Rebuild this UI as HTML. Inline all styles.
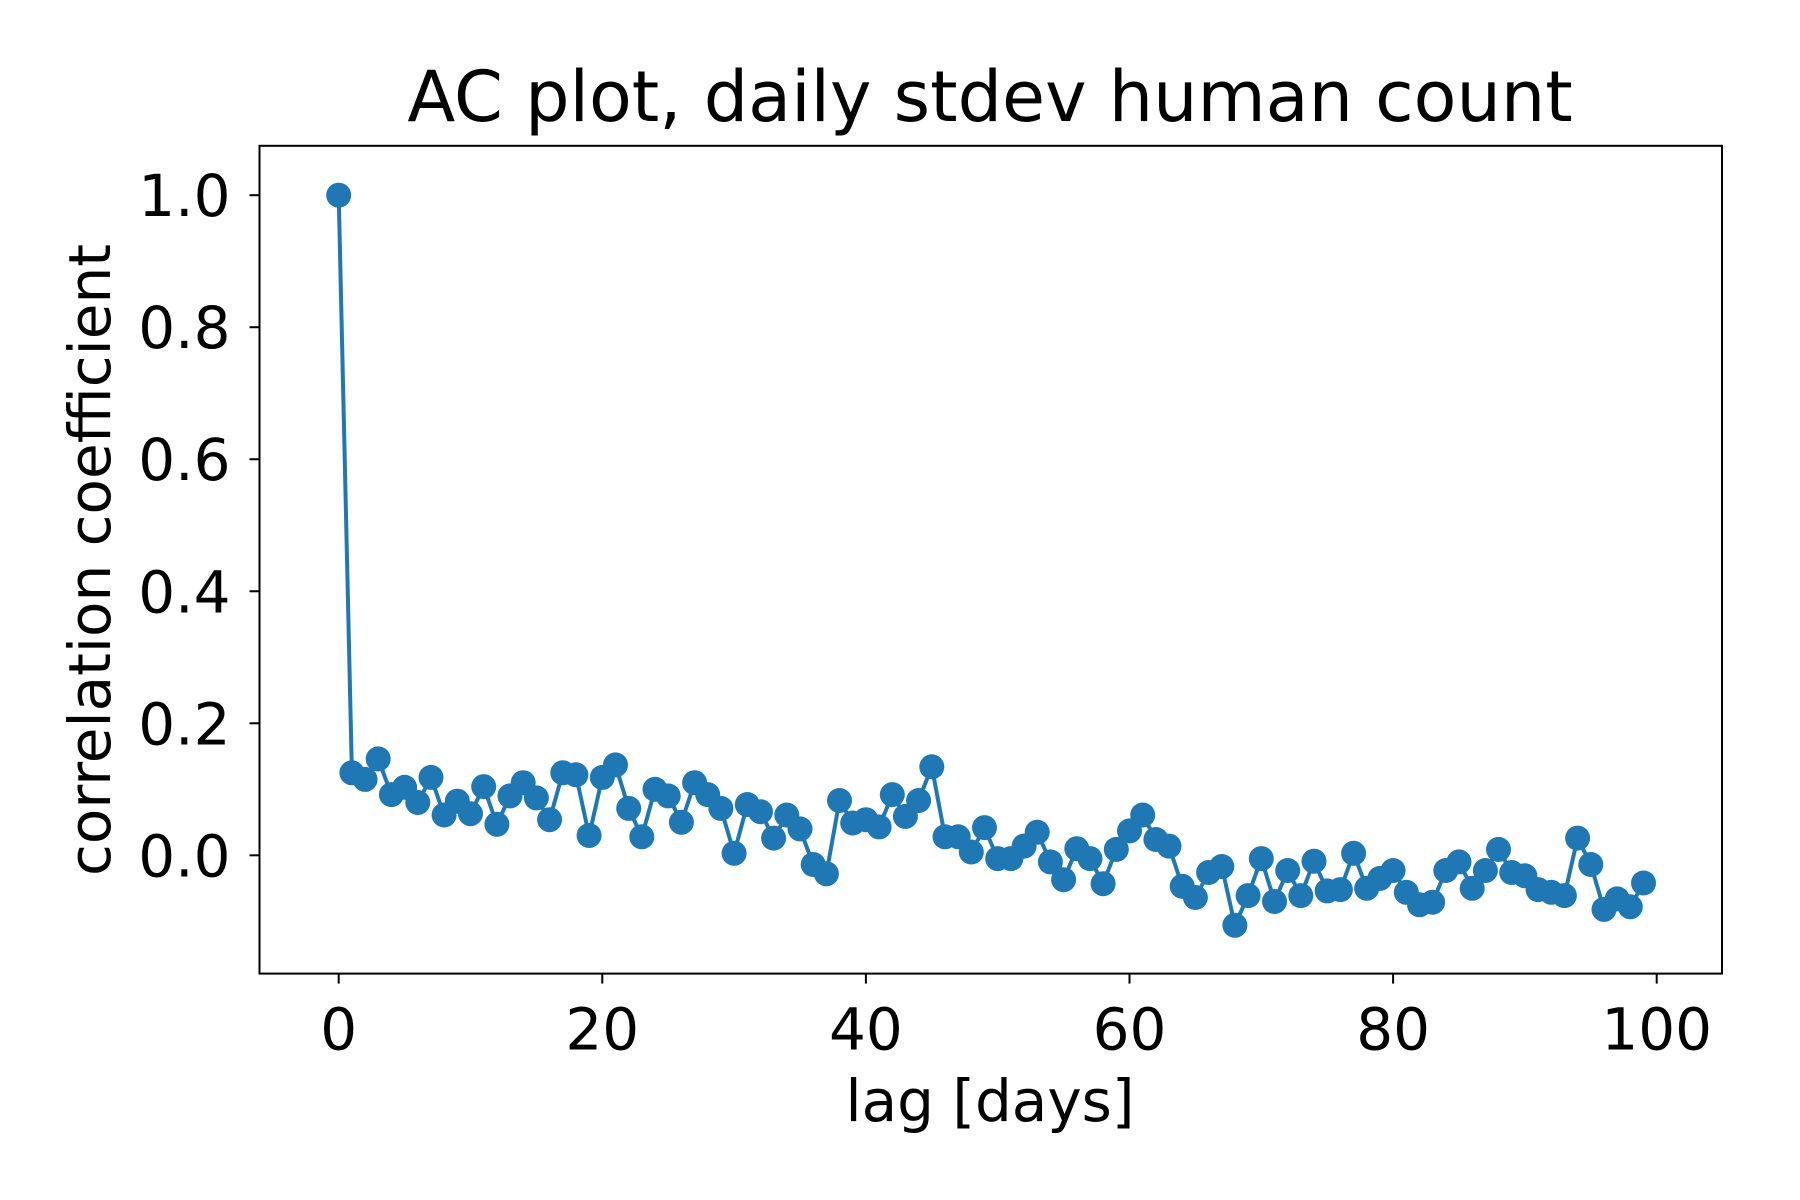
<!DOCTYPE html>
<html><head><meta charset="utf-8"><style>
html,body{margin:0;padding:0;background:#fff;}
svg{display:block;font-family:"DejaVu Sans","Liberation Sans",sans-serif;}
</style></head><body>
<svg id="chart" width="1800" height="1200" viewBox="0 0 1800 1200">
<rect width="1800" height="1200" fill="#fff"/>
<text x="990" y="121" font-size="70" text-anchor="middle">AC plot, daily stdev human count</text>
<g id="plot"></g>
<text x="990" y="1121" font-size="58" text-anchor="middle">lag [days]</text>
<text transform="translate(110,560) rotate(-90)" font-size="58" text-anchor="middle">correlation coefficient</text>
</svg>
<script>
const lags = Array.from({length:100},(_,i)=>i);
const acValues = [1.0,0.125,0.115,0.146,0.092,0.103,0.08,0.118,0.061,0.082,
0.063,0.104,0.047,0.09,0.11,0.087,0.054,0.125,0.122,0.03,
0.118,0.137,0.071,0.028,0.1,0.09,0.05,0.11,0.092,0.071,
0.003,0.077,0.066,0.026,0.061,0.04,-0.014,-0.028,0.083,0.049,
0.054,0.043,0.092,0.059,0.083,0.134,0.028,0.028,0.005,0.042,
-0.005,-0.005,0.014,0.035,-0.01,-0.037,0.01,-0.005,-0.043,0.009,
0.037,0.061,0.024,0.014,-0.047,-0.064,-0.026,-0.017,-0.106,-0.061,
-0.005,-0.07,-0.023,-0.061,-0.009,-0.054,-0.052,0.003,-0.05,-0.035,
-0.023,-0.056,-0.075,-0.071,-0.023,-0.01,-0.05,-0.023,0.009,-0.026,
-0.031,-0.052,-0.056,-0.061,0.026,-0.014,-0.082,-0.066,-0.078,-0.042];
const xTicks = [0,20,40,60,80,100];
const yTicks = [0.0,0.2,0.4,0.6,0.8,1.0];

const L=259.5,R=1722,T=145.8,B=973.6;
const xs = v => 338.7 + (v-0)*(1656.7-338.7)/100;
const ys = v => 855.3 - v*(855.3-195.2)/1.0;
const NS="http://www.w3.org/2000/svg";
const g=document.getElementById('plot');
function mk(t,a){const e=document.createElementNS(NS,t);for(const k in a)e.setAttribute(k,a[k]);return e;}

let d=acValues.map((v,i)=>(i?'L':'M')+xs(lags[i]).toFixed(1)+','+ys(v).toFixed(1)).join(' ');
const line=mk('path',{d:d,fill:'none',stroke:'#1f77b4','stroke-width':4,'stroke-linejoin':'round'});


g.appendChild(line);
acValues.forEach((v,i)=>{
  const c=mk('circle',{cx:xs(lags[i]).toFixed(1),cy:ys(v).toFixed(1),r:12.5,fill:'#1f77b4'});
  
  
  g.appendChild(c);
});
const frame=mk('rect',{x:L,y:T,width:R-L,height:B-T,fill:'none',stroke:'#000','stroke-width':2});


g.appendChild(frame);
xTicks.forEach(t=>{
  const x=xs(t);
  const tk=mk('line',{x1:x,x2:x,y1:B,y2:B+10,stroke:'#000','stroke-width':2});
  
  
  g.appendChild(tk);
  const tx=mk('text',{x:x,y:B+76,'font-size':58,'text-anchor':'middle'});
  tx.textContent=t;
  
  
  g.appendChild(tx);
});
yTicks.forEach(t=>{
  const y=ys(t);
  const tk=mk('line',{x1:L-10,x2:L,y1:y,y2:y,stroke:'#000','stroke-width':2});
  
  
  g.appendChild(tk);
  const tx=mk('text',{x:L-29,y:y+21,'font-size':58,'text-anchor':'end'});
  tx.textContent=t.toFixed(1);
  
  
  g.appendChild(tx);
});
</script>
</body></html>
